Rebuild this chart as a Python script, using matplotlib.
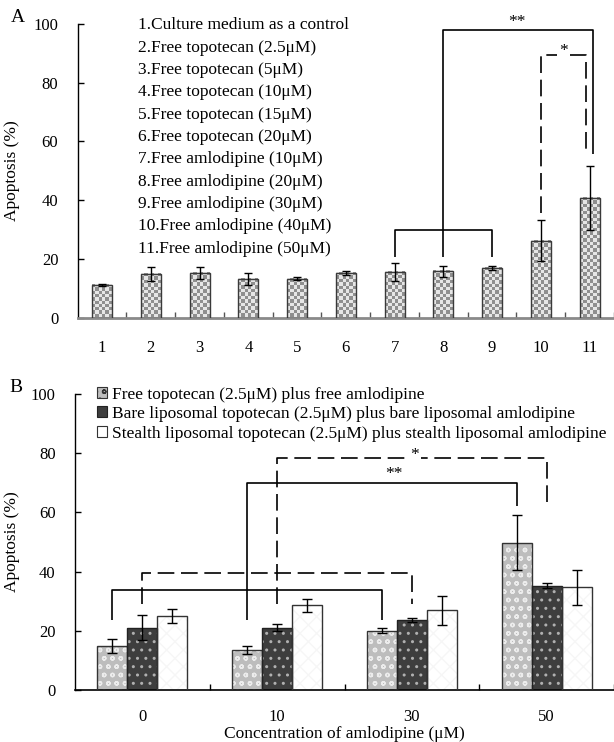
import numpy as np
import matplotlib
matplotlib.use('Agg')
import matplotlib.pyplot as plt
from matplotlib.colors import ListedColormap
from matplotlib.patches import Patch

plt.rcParams['font.family'] = ['Liberation Serif', 'DejaVu Serif']
plt.rcParams['font.size'] = 12.5
plt.rcParams['hatch.linewidth'] = 1.0

# ---- panel A data ----
groups_a = ['1', '2', '3', '4', '5', '6', '7', '8', '9', '10', '11']
apop_a = [11.2, 14.8, 15.2, 13.2, 13.2, 15.1, 15.5, 15.7, 16.8, 26.1, 40.7]
err_a = [0.3, 2.3, 2.0, 2.0, 0.5, 0.6, 3.0, 2.0, 0.7, 7.0, 11.0]
names_a = [
    '1.Culture medium as a control',
    '2.Free topotecan (2.5\u03bcM)',
    '3.Free topotecan (5\u03bcM)',
    '4.Free topotecan (10\u03bcM)',
    '5.Free topotecan (15\u03bcM)',
    '6.Free topotecan (20\u03bcM)',
    '7.Free amlodipine (10\u03bcM)',
    '8.Free amlodipine (20\u03bcM)',
    '9.Free amlodipine (30\u03bcM)',
    '10.Free amlodipine (40\u03bcM)',
    '11.Free amlodipine (50\u03bcM)',
]

# ---- panel B data ----
conc_b = ['0', '10', '30', '50']
free_b = [14.9, 13.4, 20.1, 49.8]
free_err = [2.3, 1.3, 1.0, 9.2]
bare_b = [21.1, 21.1, 23.7, 35.2]
bare_err = [4.2, 1.2, 0.6, 0.9]
stealth_b = [24.9, 28.6, 26.9, 34.7]
stealth_err = [2.4, 2.3, 5.0, 6.0]
series_b = [
    'Free topotecan (2.5\u03bcM) plus free amlodipine',
    'Bare liposomal topotecan (2.5\u03bcM) plus bare liposomal amlodipine',
    'Stealth liposomal topotecan (2.5\u03bcM) plus stealth liposomal amlodipine',
]

W, H = 614, 742
fig = plt.figure(figsize=(W / 100, H / 100), dpi=100, facecolor='w')


def bracket(ax, xs, ys, dashed=False, lw=1.2):
    line, = ax.plot(xs, ys, color='k', lw=lw, solid_capstyle='butt', zorder=5)
    if dashed:
        line.set_dashes((10, 4))


def stars(ax, x, y, s, gap=False):
    kw = {}
    if gap:
        kw['bbox'] = dict(facecolor='w', edgecolor='none', pad=1.5)
    ax.text(x, y, s, ha='center', va='bottom', fontsize=12.5, zorder=6, **kw)


# ================= panel A =================
axA = fig.add_axes([77.7 / W, 1 - 317.5 / H, 1 - 77.7 / W, (317.5 - 24) / H])
xa = np.arange(1, len(groups_a) + 1)
bars = axA.bar(xa, apop_a, width=0.41, fill=False, edgecolor='#3a3a3a', lw=1.0, zorder=3)
axA.errorbar(xa, apop_a, yerr=err_a, fmt='none', ecolor='k', elinewidth=1,
             capsize=3, capthick=1, zorder=4)
axA.set_xlim(0.5, 11.5)
axA.set_ylim(0, 100)

# checkerboard fill for each bar
px_x = axA.bbox.width / 11.0
px_y = axA.bbox.height / 100.0
cmap = ListedColormap(['#e6e6e6', '#8f8f8f'])
for r in bars:
    x0, w, h = r.get_x(), r.get_width(), r.get_height()
    nx = max(1, int(round(w * px_x / 3.4)))
    ny = max(1, int(round(h * px_y / 3.4)))
    chk = np.add.outer(np.arange(ny), np.arange(nx)) % 2
    axA.imshow(chk, cmap=cmap, extent=(x0, x0 + w, 0, h), origin='lower',
               aspect='auto', interpolation='nearest', zorder=2)
axA.set_xlim(0.5, 11.5)
axA.set_ylim(0, 100)

for s in ['top', 'right']:
    axA.spines[s].set_visible(False)
axA.spines['left'].set_linewidth(1.0)
axA.spines['bottom'].set_color('#8a8a8a')
axA.spines['bottom'].set_linewidth(2)
axA.set_yticks(range(0, 101, 20))
axA.tick_params(axis='y', direction='in', length=4, width=1, pad=14, labelsize=12)
axA.set_xticks(xa)
axA.set_xticklabels(groups_a)
axA.tick_params(axis='x', which='major', length=0, pad=16, labelsize=12)
axA.set_xticks(np.arange(1.5, 12, 1), minor=True)
axA.tick_params(axis='x', which='minor', direction='in', length=4, width=1, color='#555555')
axA.set_ylabel('Apoptosis (%)', fontsize=12.5)
axA.yaxis.set_label_coords(-0.108, 0.5)

for i, name in enumerate(names_a):
    axA.text(1.74, 99.5 - i * 7.6, name, ha='left', va='center', fontsize=12.5)

# significance brackets, panel A
bracket(axA, [7, 7, 9, 9], [20.5, 29.9, 29.9, 20.5])
bracket(axA, [8, 8, 11.07, 11.07], [20.5, 98, 98, 55.7])
stars(axA, 9.5, 98.0, '**')
bracket(axA, [10, 10, 10.93, 10.93], [35.5, 89.5, 89.5, 55.7], dashed=True)
stars(axA, 10.46, 88.0, '*', gap=True)

# ================= panel B =================
axB = fig.add_axes([75 / W, 1 - 690 / H, 1 - 75 / W, (690 - 394) / H])
xb = np.arange(len(conc_b))
bw = 0.223
# free: grey with white rings
axB.bar(xb - bw, free_b, bw, color='#bdbdbd', edgecolor='#ececec', hatch='oo', lw=0, zorder=2)
axB.bar(xb - bw, free_b, bw, fill=False, edgecolor='#333333', lw=1, zorder=3)
# bare: dark with light dots
axB.bar(xb, bare_b, bw, color='#3e3e3e', edgecolor='#b0b0b0', hatch='..', lw=0, zorder=2)
axB.bar(xb, bare_b, bw, fill=False, edgecolor='#222222', lw=1, zorder=3)
# stealth: white with faint cross-hatch
axB.bar(xb + bw, stealth_b, bw, color='w', edgecolor='#f6f6f6', hatch='xx', lw=0, zorder=2)
axB.bar(xb + bw, stealth_b, bw, fill=False, edgecolor='#333333', lw=1, zorder=3)
for off, v, e in [(-bw, free_b, free_err), (0, bare_b, bare_err), (bw, stealth_b, stealth_err)]:
    axB.errorbar(xb + off, v, yerr=e, fmt='none', ecolor='k', elinewidth=1,
                 capsize=3.5, capthick=1, zorder=4)

axB.set_xlim(-0.5, 3.5)
axB.set_ylim(0, 100)
for s in ['top', 'right']:
    axB.spines[s].set_visible(False)
axB.spines['left'].set_linewidth(1.0)
axB.spines['bottom'].set_linewidth(1.2)
axB.set_yticks(range(0, 101, 20))
axB.tick_params(axis='y', direction='in', length=4, width=1, pad=14, labelsize=12)
axB.set_xticks(xb)
axB.set_xticklabels(conc_b)
axB.tick_params(axis='x', which='major', length=0, pad=14, labelsize=12)
axB.set_xticks(np.arange(0.5, 4, 1), minor=True)
axB.tick_params(axis='x', which='minor', direction='in', length=4, width=1)
axB.set_ylabel('Apoptosis (%)', fontsize=12.5)
axB.yaxis.set_label_coords(-0.102, 0.5)
axB.set_xlabel('Concentration of amlodipine (\u03bcM)', fontsize=12.5)
axB.xaxis.set_label_coords(0.5, -0.122)

handles = [
    Patch(facecolor='#bdbdbd', edgecolor='#333333', hatch='oo', lw=0.8),
    Patch(facecolor='#3e3e3e', edgecolor='#222222', lw=0.8),
    Patch(facecolor='w', edgecolor='#333333', lw=0.8),
]
axB.legend(handles, series_b, loc='upper left', bbox_to_anchor=(0.04, 1.025),
           frameon=False, fontsize=12.5, handlelength=0.6, handleheight=0.6,
           handletextpad=0.3, labelspacing=0.2, borderpad=0, borderaxespad=0)

# significance brackets, panel B
bracket(axB, [-bw, -bw, 2 - bw, 2 - bw], [23.5, 33.8, 33.8, 23.5])
bracket(axB, [0, 0, 2, 2], [29.0, 39.5, 39.5, 29.0], dashed=True)
bracket(axB, [1 - bw, 1 - bw, 3 - bw, 3 - bw], [23.5, 70.1, 70.1, 62.3])
stars(axB, 1.87, 70.2, '**')
bracket(axB, [1, 1, 3, 3], [29.0, 78.4, 78.4, 62.3], dashed=True)
stars(axB, 2.02, 76.8, '*', gap=True)

fig.text(17.5 / W, 1 - 18 / H, 'A', fontsize=14, ha='center', va='center')
fig.text(16 / W, 1 - 387 / H, 'B', fontsize=14, ha='center', va='center')

fig.savefig('out.png', dpi=100)
